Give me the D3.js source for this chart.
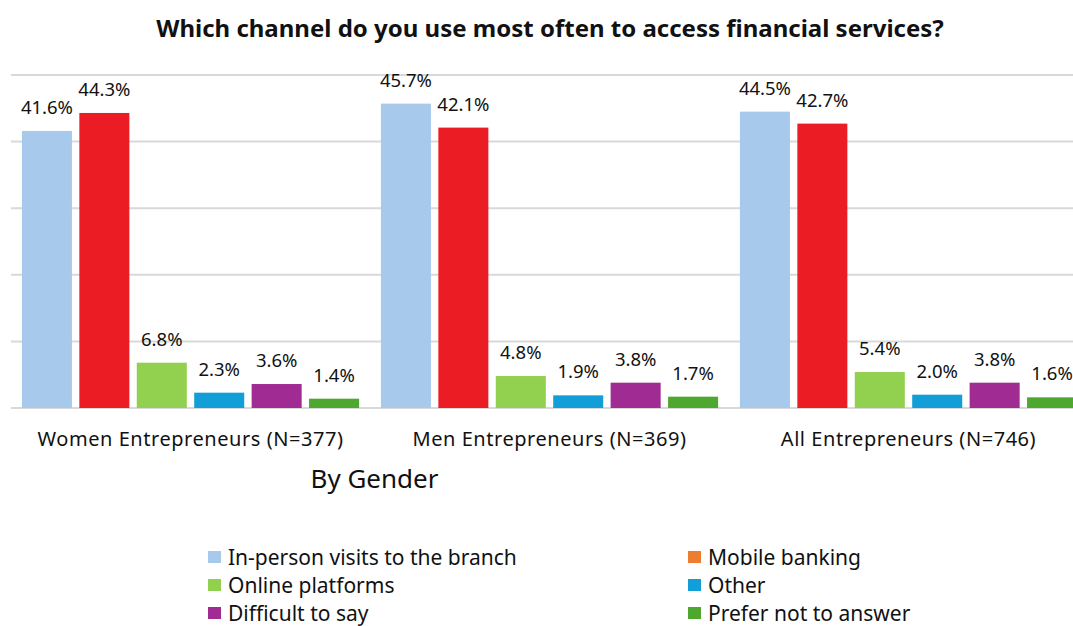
<!DOCTYPE html>
<html>
<head>
<meta charset="utf-8">
<script src="https://cdn.jsdelivr.net/npm/d3@7/dist/d3.min.js"></script>
<style>
  html, body { margin: 0; padding: 0; background: #fff; }
  svg { display: block; }
  text { font-family: "Noto Sans", "Open Sans", sans-serif; fill: #111; }
</style>
</head>
<body>
<svg id="chart" width="1073" height="626"></svg>
<script>
// Survey groups and answer options
const groups = ["Women Entrepreneurs (N=377)", "Men Entrepreneurs (N=369)", "All Entrepreneurs (N=746)"];
const seriesNames = ["In-person visits to the branch", "Mobile banking", "Online platforms", "Other", "Difficult to say", "Prefer not to answer"];
// Percentages per series, one entry per group
const inPerson = [41.6, 45.7, 44.5];
const mobile = [44.3, 42.1, 42.7];
const online = [6.8, 4.8, 5.4];
const other = [2.3, 1.9, 2.0];
const difficult = [3.6, 3.8, 3.8];
const preferNot = [1.4, 1.7, 1.6];
const yTicks = [0, 10, 20, 30, 40, 50];

const barColors = ["#A7C9EB", "#EC1C24", "#92D050", "#129FD7", "#A02B93", "#4EA72E"];
const legendColors = ["#A7C9EB", "#ED7D31", "#92D050", "#129FD7", "#A02B93", "#4EA72E"];

const seriesValues = [inPerson, mobile, online, other, difficult, preferNot];

const svg = d3.select("#chart");

const x0 = d3.scaleBand().domain(groups).range([11, 1088]).paddingInner(0).paddingOuter(0);
const x1 = d3.scaleBand().domain(seriesNames).range([0, x0.bandwidth()]).paddingInner(0.129).paddingOuter(0.19);
const y = d3.scaleLinear().domain([0, 50]).range([408, 75]);

// Title
svg.append("text")
  .attr("x", 550).attr("y", 37)
  .attr("text-anchor", "middle")
  .style("font-weight", "bold").style("font-size", "24px")
  .text("Which channel do you use most often to access financial services?");

// Gridlines
svg.append("g").selectAll("line").data(yTicks).join("line")
  .attr("x1", 11).attr("x2", 1073)
  .attr("y1", d => y(d)).attr("y2", d => y(d))
  .attr("stroke", "#d9d9d9").attr("stroke-width", 2);

// Bars and value labels
const gGroups = svg.append("g").selectAll("g").data(groups).join("g")
  .attr("transform", d => `translate(${x0(d)},0)`);

gGroups.each(function(grp, gi) {
  const g = d3.select(this);
  const rows = seriesNames.map((s, si) => ({ s, si, v: seriesValues[si][gi] }));
  g.selectAll("rect").data(rows).join("rect")
    .attr("x", d => x1(d.s))
    .attr("width", x1.bandwidth())
    .attr("y", d => y(d.v))
    .attr("height", d => y(0) - y(d.v))
    .attr("fill", d => barColors[d.si]);
  g.selectAll("text.val").data(rows).join("text")
    .attr("class", "val")
    .attr("x", d => x1(d.s) + x1.bandwidth() / 2)
    .attr("y", d => y(d.v) - 17)
    .attr("text-anchor", "middle")
    .style("font-size", "18.5px")
    .text(d => d.v.toFixed(1) + "%");
});

// Category labels
svg.append("g").selectAll("text").data(groups).join("text")
  .attr("x", d => x0(d) + x0.bandwidth() / 2)
  .attr("y", 446)
  .attr("text-anchor", "middle")
  .style("font-size", "20px")
  .style("letter-spacing", "0.55px")
  .text(d => d);

// Axis title
svg.append("text")
  .attr("x", 374.5).attr("y", 488)
  .attr("text-anchor", "middle")
  .style("font-size", "26px")
  .text("By Gender");

// Legend
const legendPos = [[208, 557], [688, 557], [208, 585], [688, 585], [208, 613], [688, 613]];
const lg = svg.append("g").selectAll("g").data(seriesNames).join("g")
  .attr("transform", (d, i) => `translate(${legendPos[i][0]},${legendPos[i][1]})`);
lg.append("rect").attr("x", 0).attr("y", -6).attr("width", 13).attr("height", 12)
  .attr("fill", (d, i) => legendColors[i]);
lg.append("text").attr("x", 20).attr("y", 8)
  .style("font-size", "21px")
  .text(d => d);
</script>
</body>
</html>
